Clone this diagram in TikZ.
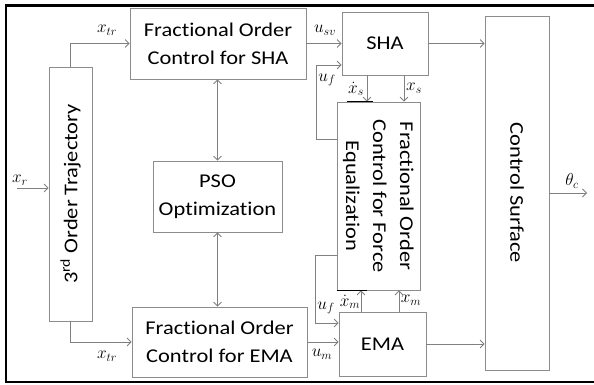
\documentclass[tikz,border=0pt]{standalone}
\usepackage{fontspec}
\setmainfont[FakeStretch=1.15,Ligatures=NoCommon]{Carlito}
\usepackage{amsmath}
\usepackage{tikz}
\usetikzlibrary{arrows.meta}

\tikzset{
	>={Straight Barb[length=4pt,width=8pt]},
	blk/.style={draw=gray!90,line width=0.8pt,align=center,inner sep=0pt,font=\fontsize{19.5}{28}\selectfont},
	arr/.style={draw=gray,line width=0.8pt,->},
	arr2/.style={draw=gray,line width=0.8pt,<->},
	lbl/.style={font=\fontsize{17.5}{17.5}\selectfont,inner sep=0pt},
	tick/.style={line width=1.6pt}
}
\newcommand{\fracword}{Fract\kern0pt ional}

\begin{document}
\begin{tikzpicture}[x=1pt,y=-1pt]
	\useasboundingbox (0,0) rectangle (594,385);
	\draw[line width=2.5pt] (600,5.5) -- (6,5.5) -- (6,382) -- (600,382);
	
	% blocks
	\node (traj) [blk,minimum width=43,minimum height=254] at (70.5,194) {\rotatebox{90}{3\textsuperscript{rd} Order Trajectory}};
	\node (focsha) [blk,minimum width=176,minimum height=71] at (218,43.5) {\fracword{} Order\\Control for SHA};
	\node (pso) [blk,minimum width=129,minimum height=71] at (217.5,196.5) {PSO\\Optimizat\kern0pt ion};
	\node (focema) [blk,minimum width=175,minimum height=70] at (219.5,342) {\fracword{} Order\\Control for EMA};
	\node (sha) [blk,minimum width=86,minimum height=63] at (385,43.5) {SHA};
	\node (ema) [blk,minimum width=87,minimum height=64] at (382.5,344) {EMA};
	\node (force) [blk,minimum width=83,minimum height=188] at (378.5,196) {\rotatebox{-90}{\fontsize{19.5}{27}\selectfont\begin{tabular}{@{}c@{}}\fracword{} Order\\Control for Force\\Equalizat\kern0pt ion\end{tabular}}};
	\node (surf) [blk,minimum width=64,minimum height=354] at (517,193) {\rotatebox{-90}{Control Surface}};
	
	% signals
	\coordinate (xr) at (17,188);
	\coordinate (theta) at (587,193);
	\draw[arr] (xr) -- (xr -| traj.west);
	\draw[arr] (traj.north) |- (focsha.west);
	\draw[arr] (traj.south) |- (focema.west);
	\draw[arr2] (pso.north) -- (pso.north |- focsha.south);
	\draw[arr2] (pso.south) -- (pso.south |- focema.north);
	\draw[arr] (focsha.east) -- (focsha.east -| sha.west);
	\draw[arr] (focema.east) -- (focema.east -| ema.west);
	\draw[arr] (sha.east) -- (sha.east -| surf.west);
	\draw[arr] (ema.east) -- (ema.east -| surf.west);
	\draw[arr] (surf.east) -- (theta);
	\draw[arr] ([xshift=-18pt]sha.south) -- ([xshift=-18pt]sha.south |- force.north);
	\draw[arr] ([xshift=19pt]sha.south) -- ([xshift=19pt]sha.south |- force.north);
	\draw[arr] ([xshift=-21.5pt]ema.north) -- ([xshift=-21.5pt]ema.north |- force.south);
	\draw[arr] ([xshift=16.5pt]ema.north) -- ([xshift=16.5pt]ema.north |- force.south);
	\draw[arr] ([yshift=57pt]force.west) -- ++(-20,0) |- ([yshift=-21.5pt]sha.west);
	\draw[arr] ([yshift=-59pt]force.west) -- ++(-21,0) |- ([yshift=21pt]ema.west);
	\draw[tick] ([xshift=-31.5pt]force.north) -- ([xshift=-5.5pt]force.north);
	\draw[tick] (force.south west) -- ([xshift=-11.5pt]force.south);
	
	% labels
	\node (lxr) [lbl] at (20,180) {$x_r$};
	\node (lxtr1) [lbl] at (107,30) {$x_{tr}$};
	\node (lxtr2) [lbl] at (107,356) {$x_{tr}$};
	\node (lusv) [lbl] at (325,30) {$u_{sv}$};
	\node (luf1) [lbl] at (327,80) {$u_f$};
	\node (lxsd) [lbl] at (356,89) {$\dot{x}_s$};
	\node (lxs) [lbl] at (414,88) {$x_s$};
	\node (luf2) [lbl] at (326,308) {$u_f$};
	\node (lxmd) [lbl] at (350,302) {$\dot{x}_m$};
	\node (lxm) [lbl] at (411,300) {$x_m$};
	\node (lum) [lbl] at (322,354) {$u_m$};
	\node (lth) [lbl] at (572,181) {$\theta_c$};
\end{tikzpicture}
\end{document}
